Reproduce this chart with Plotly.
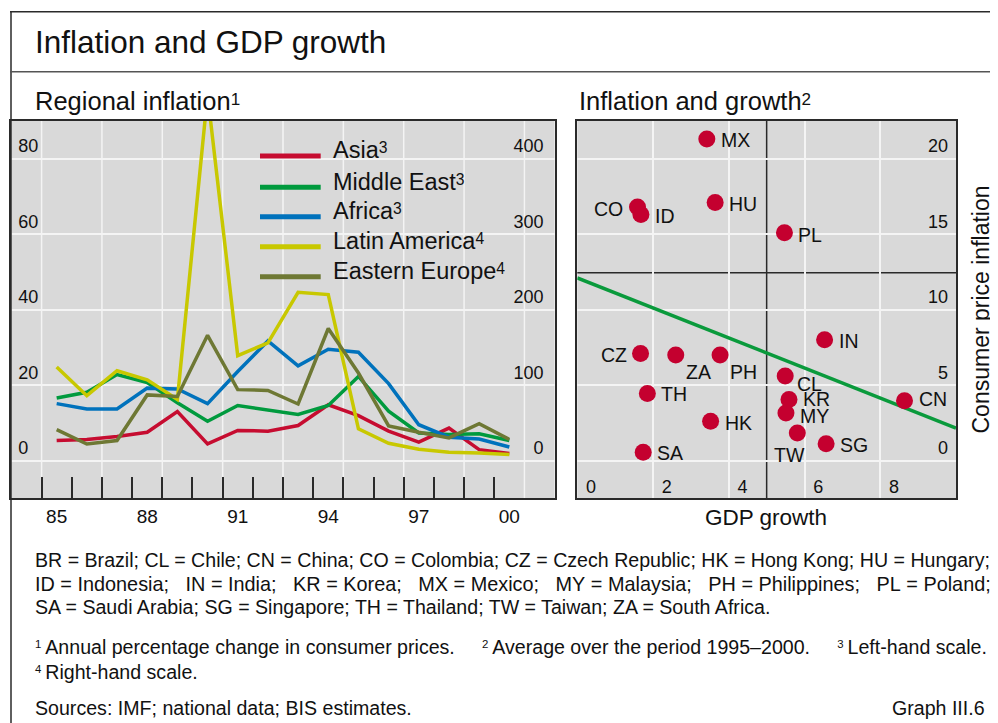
import plotly.graph_objects as go

# the page body has an 8px margin, so the figure is 8px smaller than the window
OFF = 8
W, H = 998 - OFF, 723 - OFF
FONT = "Liberation Sans, Arial, sans-serif"

# Regional inflation, annual % change (Asia, Middle East, Africa: left scale;
# Latin America, Eastern Europe: right scale)
years = list(range(1985, 2001))
asia = [5.3, 5.6, 6.4, 7.5, 13.0, 4.4, 8.0, 7.8, 9.3, 14.8, 11.9, 7.8, 4.9, 8.6, 2.9, 1.9]
middle_east = [16.6, 18.1, 22.8, 20.7, 15.3, 10.4, 14.6, 13.5, 12.2, 14.6, 22.3, 13.1, 7.3, 6.9, 7.1, 5.3]
africa = [15.1, 13.7, 13.7, 19.2, 19.0, 15.1, 23.6, 31.7, 25.1, 29.5, 28.7, 20.4, 9.5, 6.2, 5.7, 3.6]
latin_america = [124, 86, 119, 107, 81, 485, 139, 156, 223, 220, 42, 23, 15, 11, 10, 8]
eastern_europe = [41, 22, 26.5, 87, 85, 166, 94, 93, 75, 175, 116, 46, 37.5, 30, 49, 28]
year_labels = [1985, 1988, 1991, 1994, 1997, 2000]
year_text = ["85", "88", "91", "94", "97", "00"]
year_bounds = [1984.5 + k for k in range(17)]
year_grid = year_bounds[::2]

# Inflation and growth, averages 1995-2000
countries = ["MX", "CO", "ID", "HU", "PL", "IN", "CZ", "ZA", "PH",
             "CL", "TH", "KR", "MY", "CN", "HK", "TW", "SG", "SA"]
gdp_growth = [3.42, 1.59, 1.68, 3.64, 5.47, 6.53, 1.67, 2.60, 3.77,
              5.49, 1.85, 5.59, 5.51, 8.64, 3.52, 5.81, 6.57, 1.74]
cpi_inflation = [21.3, 16.8, 16.3, 17.1, 15.1, 8.0, 7.1, 7.0, 7.0,
                 5.6, 4.45, 4.05, 3.15, 3.96, 2.6, 1.83, 1.12, 0.55]
fit_x = [0, 10]
fit_y = [12.1, 2.15]
mean_growth = 5.0
mean_inflation = 12.45

# label placement around the dots: (xanchor, xshift, yshift)
label_pos = {
    "MX": ("left", 12, -1), "CO": ("right", -13, -2), "ID": ("left", 12, -1),
    "HU": ("left", 12, -1), "PL": ("left", 12, -2), "IN": ("left", 12, -1),
    "CZ": ("right", -12, -2), "ZA": ("left", 8, -17), "PH": ("left", 8, -17),
    "CL": ("left", 10, -8), "TH": ("left", 12, -1), "KR": ("left", 12, 0),
    "MY": ("left", 12, -3), "CN": ("left", 12, 2), "HK": ("left", 12, -2),
    "TW": ("center", -8, -22), "SG": ("left", 12, -1), "SA": ("left", 12, -1),
}

colors = {
    "Asia": "#C60C30",
    "Middle East": "#009A3E",
    "Africa": "#0072BC",
    "Latin America": "#C8C800",
    "Eastern Europe": "#6E7834",
}
BG = "#D9D9D9"
GRID = "#F4F4F4"
LINE = "#2A2A2A"


def px(x):
    return (x - OFF) / W


def py(y):
    return 1 - (y - OFF) / H


def sup(d, size, scale=0.67, rise=0.2):
    # small raised footnote digit whose top sits about at cap height
    return (f"<span style='font-size:{size * scale:.1f}px;"
            f"baseline-shift:{size * rise:.1f}px'>{d}</span>")


fig = go.Figure()

left_series = [("Asia", asia, "y"), ("Middle East", middle_east, "y"), ("Africa", africa, "y"),
               ("Latin America", latin_america, "y2"), ("Eastern Europe", eastern_europe, "y2")]
for name, vals, yax in left_series:
    fig.add_trace(go.Scatter(
        x=years, y=vals, mode="lines", name=name, xaxis="x", yaxis=yax,
        line=dict(color=colors[name], width=3.5), showlegend=False,
    ))

fig.add_trace(go.Scatter(
    x=fit_x, y=fit_y, mode="lines", xaxis="x2", yaxis="y3",
    line=dict(color="#0A9A3C", width=3.5), showlegend=False,
))
fig.add_trace(go.Scatter(
    x=gdp_growth, y=cpi_inflation, mode="markers", xaxis="x2", yaxis="y3",
    marker=dict(color="#C4002F", size=17), showlegend=False,
))

dom_left = [px(11.4), px(554.6)]
dom_right = [px(577.3), px(956)]
dom_y = [py(498.3), py(121)]

tick_font = dict(family=FONT, size=18, color="#111")

fig.update_layout(
    width=W, height=H,
    margin=dict(l=0, r=0, t=0, b=0),
    paper_bgcolor="white",
    plot_bgcolor=BG,
    font=dict(family=FONT, color="#111"),
    xaxis=dict(
        domain=dom_left, anchor="y", range=[1983.5, 2001.5],
        tickmode="array", tickvals=year_labels, ticktext=year_text,
        tickfont=dict(family=FONT, size=19, color="#111"), ticklabelstandoff=0,
        showgrid=False, ticks="",
        minor=dict(tickmode="array", tickvals=year_bounds, ticks="inside", ticklen=22,
                   tickwidth=1.5, tickcolor=LINE, showgrid=False),
        showline=True, mirror=True, linecolor=LINE, linewidth=1.5, zeroline=False,
    ),
    yaxis=dict(
        domain=dom_y, anchor="x", range=[-10, 90],
        tickmode="array", tickvals=[0, 20, 40, 60, 80],
        ticklabelposition="inside top", ticklabelstandoff=7, tickfont=tick_font, ticks="",
        showgrid=True, gridcolor=GRID, gridwidth=1.5, zeroline=False,
        showline=True, mirror=True, linecolor=LINE, linewidth=1.5,
    ),
    yaxis2=dict(
        overlaying="y", anchor="x", side="right", range=[-50, 450],
        tickmode="array", tickvals=[0, 100, 200, 300, 400],
        ticklabelposition="inside top", ticklabelstandoff=8, tickfont=tick_font, ticks="",
        showgrid=False, zeroline=False, showline=False,
    ),
    xaxis2=dict(
        domain=dom_right, anchor="y3", range=[0, 10],
        tickmode="array", tickvals=[0, 2, 4, 6, 8],
        ticklabelposition="inside right", ticklabelshift=8, tickfont=tick_font, ticks="",
        showgrid=True, gridcolor=GRID, gridwidth=1.5, zeroline=False,
        showline=True, mirror=True, linecolor=LINE, linewidth=1.5,
    ),
    yaxis3=dict(
        domain=dom_y, anchor="x2", side="right", range=[-2.5, 22.5],
        tickmode="array", tickvals=[0, 5, 10, 15, 20],
        ticklabelposition="inside top", ticklabelstandoff=8, tickfont=tick_font, ticks="",
        showgrid=True, gridcolor=GRID, gridwidth=1.5, zeroline=False,
        showline=True, mirror=True, linecolor=LINE, linewidth=1.5,
    ),
)

shapes = [
    # frame
    dict(type="line", xref="paper", yref="paper", x0=px(10), x1=1, y0=py(11.7), y1=py(11.7),
         line=dict(color=LINE, width=1.5)),
    dict(type="line", xref="paper", yref="paper", x0=px(11), x1=px(11), y0=py(11.7), y1=0,
         line=dict(color=LINE, width=1.5)),
    dict(type="line", xref="paper", yref="paper", x0=px(10), x1=1, y0=py(71.7), y1=py(71.7),
         line=dict(color="#555", width=1.5)),
    # cross-hair in the scatter panel
    dict(type="line", xref="x2", yref="y3 domain", x0=mean_growth, x1=mean_growth, y0=0, y1=1,
         line=dict(color=LINE, width=1.5), layer="below"),
    dict(type="line", xref="x2 domain", yref="y3", x0=0, x1=1, y0=mean_inflation, y1=mean_inflation,
         line=dict(color=LINE, width=1.5), layer="below"),
]
# vertical grid of the regional panel: every second year boundary
for gx in year_grid:
    shapes.append(dict(type="line", xref="x", yref="y domain", x0=gx, x1=gx, y0=0, y1=1,
                       line=dict(color=GRID, width=1.5), layer="below"))

annotations = [
    dict(text="Inflation and GDP growth", x=px(33), y=py(42), font=dict(size=31.5)),
    dict(text="Regional inflation" + sup("1", 25.5), x=px(33), y=py(101.3), font=dict(size=25.5)),
    dict(text="Inflation and growth" + sup("2", 25.5), x=px(577), y=py(101.3),
         font=dict(size=25.5)),
]

legend_rows = [("Asia", "3", 156), ("Middle East", "3", 187.3), ("Africa", "3", 216.7),
               ("Latin America", "4", 246.7), ("Eastern Europe", "4", 276.7)]
for name, note, ly in legend_rows:
    shapes.append(dict(type="line", xref="paper", yref="paper", x0=px(260), x1=px(320.7),
                       y0=py(ly), y1=py(ly), line=dict(color=colors[name], width=5)))
    annotations.append(dict(text=name + sup(note, 23.5), x=px(331), y=py(ly - 5.5),
                            font=dict(size=23.5)))

for c, gx, gy in zip(countries, gdp_growth, cpi_inflation):
    anchor, dx, dy = label_pos[c]
    annotations.append(dict(text=c, x=gx, y=gy, xref="x2", yref="y3", xanchor=anchor,
                            yanchor="middle", xshift=dx, yshift=dy, showarrow=False,
                            font=dict(size=19.5)))

annotations += [
    dict(text="GDP growth", x=px(765.7), y=py(517), xanchor="center", font=dict(size=22.5)),
    dict(text="Consumer price inflation", x=px(980.5), y=py(310), xanchor="center",
         textangle=-90, font=dict(size=23)),
]

NOTE = 19.6
sep = "\u00a0\u00a0\u00a0"
line2_items = ["ID = Indonesia;", "IN = India;", "KR = Korea;", "MX = Mexico;",
               "MY = Malaysia;", "PH = Philippines;", "PL = Poland;"]
line2 = sep.join(s.replace(" ", "\u00a0") for s in line2_items)
gap = "\u00a0\u00a0\u00a0\u00a0\u00a0"


def fn(d):
    return sup(d, NOTE, scale=0.58, rise=0.3)


notes = [
    ("BR = Brazil; CL = Chile; CN = China; CO = Colombia; CZ = Czech Republic; "
     "HK = Hong Kong; HU = Hungary;", 560, NOTE),
    (line2, 584, 19.85),
    ("SA = Saudi Arabia; SG = Singapore; TH = Thailand; TW = Taiwan; ZA = South Africa.", 607, NOTE),
    (fn("1") + "\u2009Annual percentage change in consumer prices." + gap +
     fn("2") + "\u2009Average over the period 1995–2000." + gap +
     fn("3") + "\u2009Left-hand scale.", 647, NOTE),
    (fn("4") + "\u2009Right-hand scale.", 672, NOTE),
    ("Sources: IMF; national data; BIS estimates.", 708, NOTE),
]
for txt, ny, size in notes:
    annotations.append(dict(text=txt, x=px(33), y=py(ny), font=dict(size=size)))
annotations.append(dict(text="Graph III.6", x=px(987), y=py(708), xanchor="right",
                        font=dict(size=NOTE)))

for a in annotations:
    a.setdefault("xref", "paper")
    a.setdefault("yref", "paper")
    a.setdefault("xanchor", "left")
    a.setdefault("yanchor", "middle")
    a.setdefault("showarrow", False)
    a["font"] = dict(family=FONT, color="#111", size=a["font"]["size"])

fig.update_layout(shapes=shapes, annotations=annotations)

fig.write_html("out.html")
